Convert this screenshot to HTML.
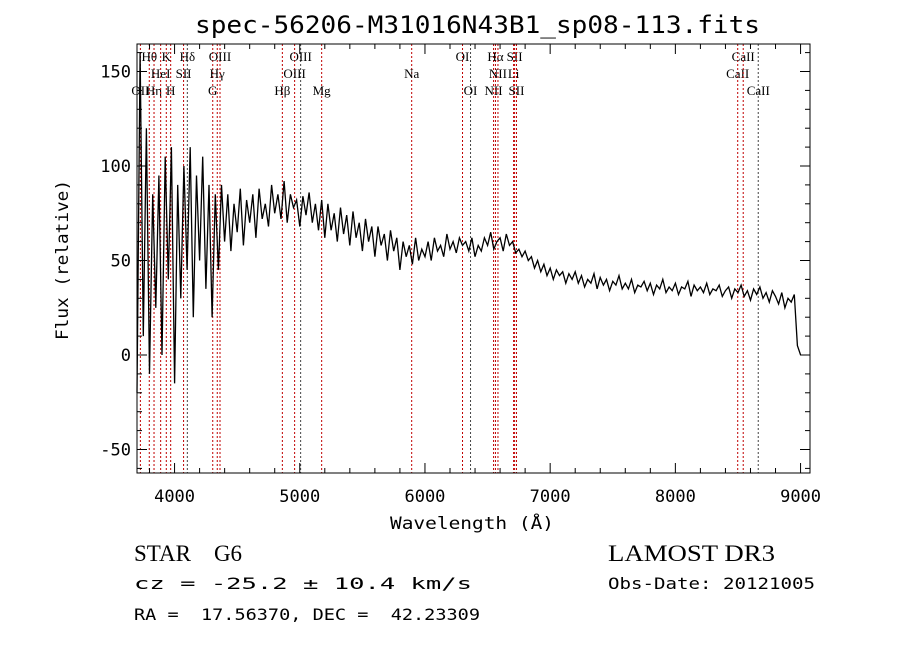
<!DOCTYPE html>
<html><head><meta charset="utf-8"><style>
body{margin:0;background:#fff;}
svg text{font-family:"DejaVu Sans Mono","Liberation Mono",monospace;white-space:pre;}
.ser{font-family:"Liberation Serif",serif;font-size:13px;}
</style></head><body>
<svg id="chart" width="900" height="649" xmlns="http://www.w3.org/2000/svg">
<rect width="900" height="649" fill="#fff"/>
<text x="195" y="33" font-size="24" textLength="565" lengthAdjust="spacingAndGlyphs">spec-56206-M31016N43B1_sp08-113.fits</text>
<g id="lines"></g>
<g id="axes"></g>
<path id="spec" fill="none" stroke="#000" stroke-width="1.3"/>
<text x="390" y="529" font-size="17" textLength="164" lengthAdjust="spacingAndGlyphs">Wavelength (Å)</text>
<text transform="translate(68,340) rotate(-90)" font-size="17" textLength="160" lengthAdjust="spacingAndGlyphs">Flux (relative)</text>
<text x="134" y="561" font-size="23" style="font-family:'Liberation Serif',serif;white-space:pre">STAR    G6</text>
<text x="134" y="589" font-size="16" textLength="338" lengthAdjust="spacingAndGlyphs">cz = -25.2 ± 10.4 km/s</text>
<text x="134" y="620" font-size="16" textLength="346" lengthAdjust="spacingAndGlyphs">RA =  17.56370, DEC =  42.23309</text>
<text x="608" y="561" font-size="23" style="font-family:'Liberation Serif',serif" textLength="167" lengthAdjust="spacingAndGlyphs">LAMOST DR3</text>
<text x="608" y="589" font-size="16" textLength="207" lengthAdjust="spacingAndGlyphs">Obs-Date: 20121005</text>
</svg>
<script>
const wStart = 3700, wStep = 25;
const flux = [-20,160,10,120,-10,85,25,95,0,105,40,110,-15,90,30,100,45,110,20,95,50,105,35,90,
20,85,45,90,
60,85,55,80,65,88,58,82,70,85,62,88,72,80,68,90,
75,85,72,92,70,85,78,82,68,84,74,86,70,80,66,82,
62,80,66,75,60,78,64,74,58,76,62,70,55,72,60,68,
52,68,58,64,50,66,55,62,45,60,52,58,48,62,50,56,
52,60,50,62,55,58,52,64,56,60,54,62,58,60,55,62,
52,58,55,62,58,65,56,60,62,55,64,58,60,54,56,52,
55,50,52,46,50,44,48,42,46,40,45,42,44,38,43,40,
44,38,42,36,40,38,43,35,41,37,40,34,39,37,42,35,
38,35,40,33,37,36,39,34,38,32,37,35,40,33,36,34,
38,32,36,35,39,31,37,34,36,33,38,32,35,34,37,31,
34,36,30,35,33,37,31,34,29,35,32,36,30,33,28,34,
31,27,33,25,30,28,32,5,0];
const lineWaves = [3727,3798,3836,3889,3934,3969,4072,4102,4305,4341,4363,4861,4959,5007,5175,5894,6300,6364,6548,6563,6583,6708,6716,6731,8498,8542,8662];
const lineDark = [0,0,0,0,0,0,0,1,0,0,0,0,0,1,0,0,0,1,0,0,0,0,0,0,0,0,1];
const labelNames = ["OII","Hθ","Hη","HeI","K","H","SII","Hδ","G","Hγ","OIII","Hβ","OIII","OIII","Mg","Na","OI","OI","NII","Hα","NII","Li","SII","SII","CaII","CaII","CaII"];
const labelRow = [2,0,2,1,0,2,1,0,2,1,0,2,1,0,2,1,0,2,2,0,1,1,0,2,1,0,2];
const xTicks = [4000,5000,6000,7000,8000,9000];
const yTicks = [-50,0,50,100,150];
const X0=137,X1=810,Y0=44,Y1=473;
const xs = w => X0 + (w-3700)*0.1252;
const ys = v => Math.max(Y0, 355 - v*1.89);
const NS="http://www.w3.org/2000/svg";
function mk(t,a,p){const e=document.createElementNS(NS,t);for(const k in a)e.setAttribute(k,a[k]);p.appendChild(e);return e;}
const L=document.getElementById('lines'), A=document.getElementById('axes');
lineWaves.forEach((w,i)=>{
  const l=mk('line',{x1:xs(w),x2:xs(w),y1:Y0,y2:Y1,stroke:lineDark[i]?'#444':'#c00000','stroke-width':1,'stroke-dasharray':'2,2'},L);
  
  
  const t=mk('text',{x:xs(w),y:61+labelRow[i]*17,'text-anchor':'middle',class:'ser'},L);
  t.textContent=labelNames[i];
  
  
});
const fr=mk('rect',{x:X0,y:Y0,width:X1-X0,height:Y1-Y0,fill:'none',stroke:'#000','stroke-width':1},A);


for(let w=3800;w<=9000;w+=200){const big=w%1000===0;
  mk('line',{x1:xs(w),x2:xs(w),y1:Y1,y2:Y1-(big?10:5),stroke:'#000'},A);
  mk('line',{x1:xs(w),x2:xs(w),y1:Y0,y2:Y0+(big?10:5),stroke:'#000'},A);}
for(let v=-60;v<=160;v+=10){const big=v%50===0;
  mk('line',{x1:X0,x2:X0+(big?10:5),y1:ys(v),y2:ys(v),stroke:'#000'},A);
  mk('line',{x1:X1,x2:X1-(big?10:5),y1:ys(v),y2:ys(v),stroke:'#000'},A);}
xTicks.forEach(w=>{const t=mk('text',{x:xs(w),y:502,'font-size':17,'text-anchor':'middle'},A);t.textContent=w;
  
  });
yTicks.forEach(v=>{const t=mk('text',{x:131,y:ys(v)+6,'font-size':17,'text-anchor':'end'},A);t.textContent=v;
  
  });
let d='';
flux.forEach((v,i)=>{d+=(i?'L':'M')+xs(wStart+i*wStep).toFixed(1)+','+ys(v).toFixed(1);});
document.getElementById('spec').setAttribute('d',d);
</script>
</body></html>
